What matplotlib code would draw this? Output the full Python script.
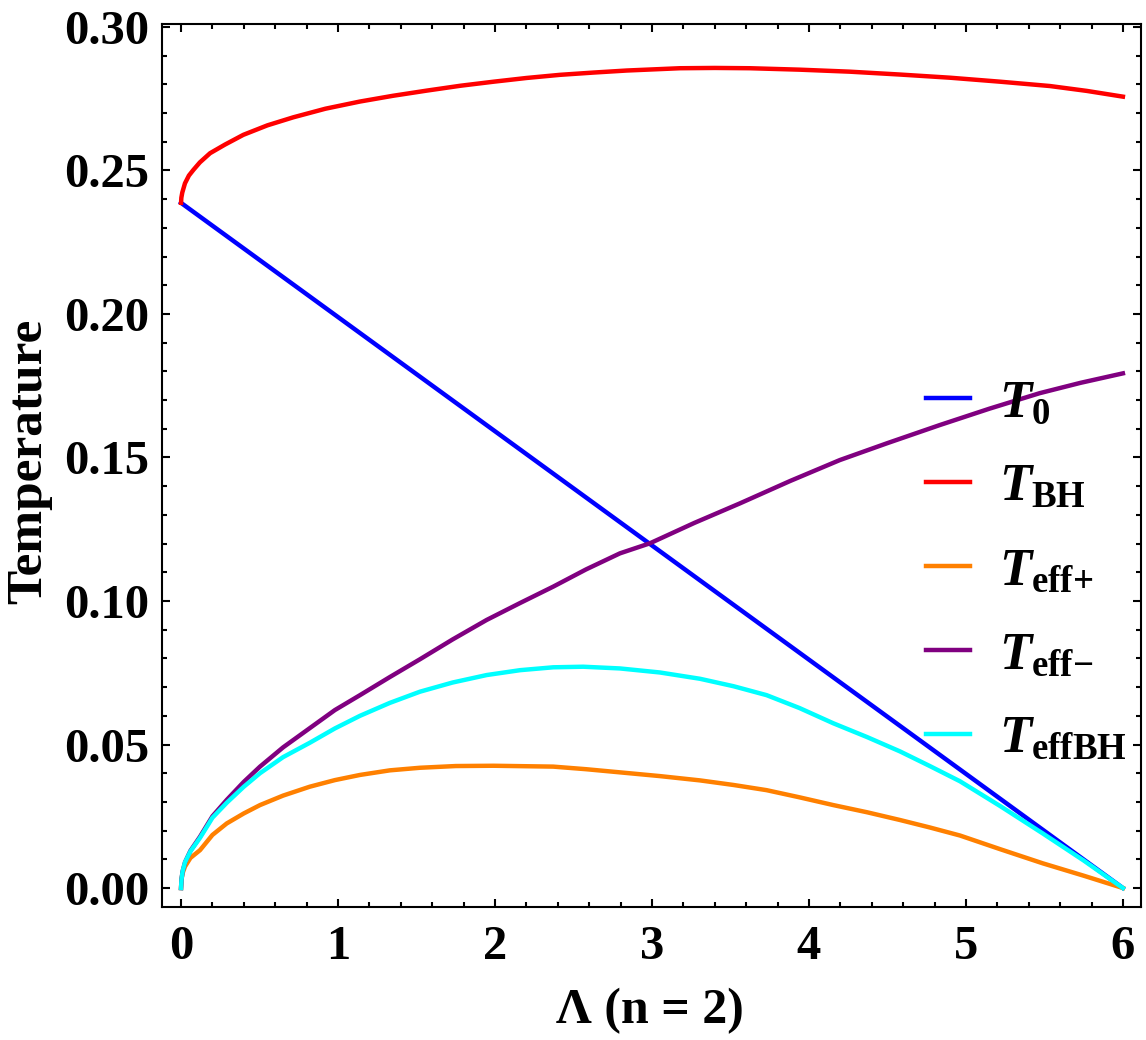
import numpy as np
import matplotlib
matplotlib.use("Agg")
import matplotlib.pyplot as plt
from matplotlib.ticker import MultipleLocator

plt.rcParams['font.family'] = ['Liberation Serif', 'DejaVu Serif']
plt.rcParams['font.weight'] = 'bold'
plt.rcParams['mathtext.fontset'] = 'custom'
plt.rcParams['mathtext.it'] = 'Liberation Serif:italic:bold'
plt.rcParams['mathtext.rm'] = 'Liberation Serif:bold'
plt.rcParams['mathtext.bf'] = 'Liberation Serif:bold'

# data
x_t0 = [0.0, 6.0]
t_0 = [0.2387, 0.0]

x_bh = [0.0, 0.002, 0.008, 0.025, 0.05, 0.079, 0.12, 0.185, 0.28, 0.397, 0.55, 0.715, 0.92,
        1.14, 1.35, 1.565, 1.78, 1.99, 2.2, 2.414, 2.63, 2.839, 3.178, 3.4, 3.624, 3.94,
        4.26, 4.58, 4.898, 5.22, 5.535, 5.77, 6.0]
t_bh = [0.2387, 0.2405, 0.2423, 0.2455, 0.2482, 0.2502, 0.2528, 0.256, 0.259, 0.2624, 0.2657, 0.2685, 0.2715,
        0.274, 0.276, 0.2778, 0.2795, 0.2809, 0.2822, 0.2833, 0.2841, 0.2848, 0.2856, 0.2857, 0.2856, 0.2851,
        0.2844, 0.2834, 0.2823, 0.2809, 0.2794, 0.2777, 0.2757]

x_plus = [0.0, 0.003, 0.01, 0.0255, 0.06, 0.121, 0.2, 0.291, 0.4, 0.503, 0.65, 0.82, 0.98,
          1.14, 1.33, 1.522, 1.75, 1.99, 2.371, 2.58, 2.796, 3.05, 3.306, 3.52, 3.73, 3.94,
          4.155, 4.37, 4.58, 4.77, 4.962, 5.22, 5.49, 5.75, 6.0]
t_plus = [0.0, 0.003, 0.0052, 0.0075, 0.0105, 0.0132, 0.0185, 0.0225, 0.026, 0.0289, 0.0322, 0.0353, 0.0376,
          0.0394, 0.041, 0.0419, 0.0425, 0.0426, 0.0423, 0.0414, 0.0403, 0.039, 0.0375, 0.0359, 0.0341, 0.0316,
          0.0289, 0.0264, 0.0237, 0.0211, 0.0183, 0.0135, 0.0086, 0.0043, 0.0]

x_minus = [0.0, 0.003, 0.01, 0.0255, 0.06, 0.121, 0.2, 0.291, 0.4, 0.503, 0.65, 0.82, 0.98,
           1.14, 1.33, 1.522, 1.73, 1.947, 2.16, 2.371, 2.58, 2.796, 2.987, 3.27, 3.56, 3.88,
           4.197, 4.5, 4.834, 5.15, 5.47, 5.73, 6.0]
t_minus = [0.0, 0.003, 0.0058, 0.009, 0.013, 0.0179, 0.025, 0.0307, 0.037, 0.0423, 0.049, 0.0557, 0.062,
           0.0672, 0.0735, 0.0797, 0.0866, 0.0934, 0.0993, 0.105, 0.111, 0.1166, 0.1201, 0.1272, 0.134, 0.1418,
           0.1491, 0.155, 0.1613, 0.167, 0.1724, 0.176, 0.1793]

x_effbh = [0.0, 0.003, 0.01, 0.0255, 0.06, 0.121, 0.2, 0.291, 0.4, 0.503, 0.65, 0.82, 0.98,
           1.14, 1.33, 1.522, 1.73, 1.947, 2.16, 2.371, 2.562, 2.796, 3.05, 3.306, 3.52, 3.73,
           3.94, 4.155, 4.37, 4.58, 4.77, 4.962, 5.22, 5.49, 5.75, 6.0]
t_effbh = [0.0, 0.003, 0.0058, 0.009, 0.0128, 0.0175, 0.0245, 0.0297, 0.0353, 0.040, 0.0456, 0.0506, 0.0556,
           0.0600, 0.0645, 0.0684, 0.0716, 0.0742, 0.0759, 0.0769, 0.0771, 0.0765, 0.0751, 0.0729, 0.0703, 0.0672,
           0.0627, 0.0574, 0.0526, 0.0476, 0.0425, 0.0372, 0.0285, 0.019, 0.0096, 0.0]

fig = plt.figure(figsize=(11.46, 10.4), dpi=100)
ax = fig.add_axes([0.1414, 0.1279, 0.8542, 0.849])

lw = 3.2
ax.plot(x_t0, t_0, color=(0, 0, 1), lw=lw, label=r'$T_{\mathrm{0}}$')
ax.plot(x_bh, t_bh, color=(1, 0, 0), lw=lw, label=r'$T_{\mathrm{BH}}$')
ax.plot(x_plus, t_plus, color=(1, 0.5, 0), lw=lw, label=r'$T_{\mathrm{eff}{+}}$')
ax.plot(x_minus, t_minus, color=(0.5, 0, 0.5), lw=lw, label=r'$T_{\mathrm{eff}{-}}$')
ax.plot(x_effbh, t_effbh, color=(0, 1, 1), lw=lw, label=r'$T_{\mathrm{effBH}}$')

ax.set_xlim(-0.121, 6.115)
ax.set_ylim(-0.0066, 0.301)

ax.xaxis.set_major_locator(MultipleLocator(1))
ax.xaxis.set_minor_locator(MultipleLocator(0.2))
ax.yaxis.set_major_locator(MultipleLocator(0.05))
ax.yaxis.set_minor_locator(MultipleLocator(0.01))
ax.yaxis.set_major_formatter(plt.FormatStrFormatter('%.2f'))

ax.tick_params(which='both', direction='in', top=True, right=True, width=1.5)
ax.tick_params(which='major', length=6, labelsize=35, pad=9)
ax.tick_params(which='minor', length=3.5)
ax.tick_params(axis='x', which='major', pad=13)
for s in ax.spines.values():
    s.set_linewidth(1.5)

ax.set_xlabel('Λ (n = 2)', fontsize=36, fontweight='bold')
ax.set_ylabel('Temperature', fontsize=37, fontweight='bold')
ax.xaxis.set_label_coords(0.498, -0.092)
ax.yaxis.set_label_coords(-0.112, 0.505)

ax.legend(loc='center left', bbox_to_anchor=(0.78, 0.38), frameon=False, fontsize=38,
          handlelength=0.85, handletextpad=0.55, labelspacing=0.68, borderpad=0, borderaxespad=0)

fig.savefig('out.png', dpi=100)
